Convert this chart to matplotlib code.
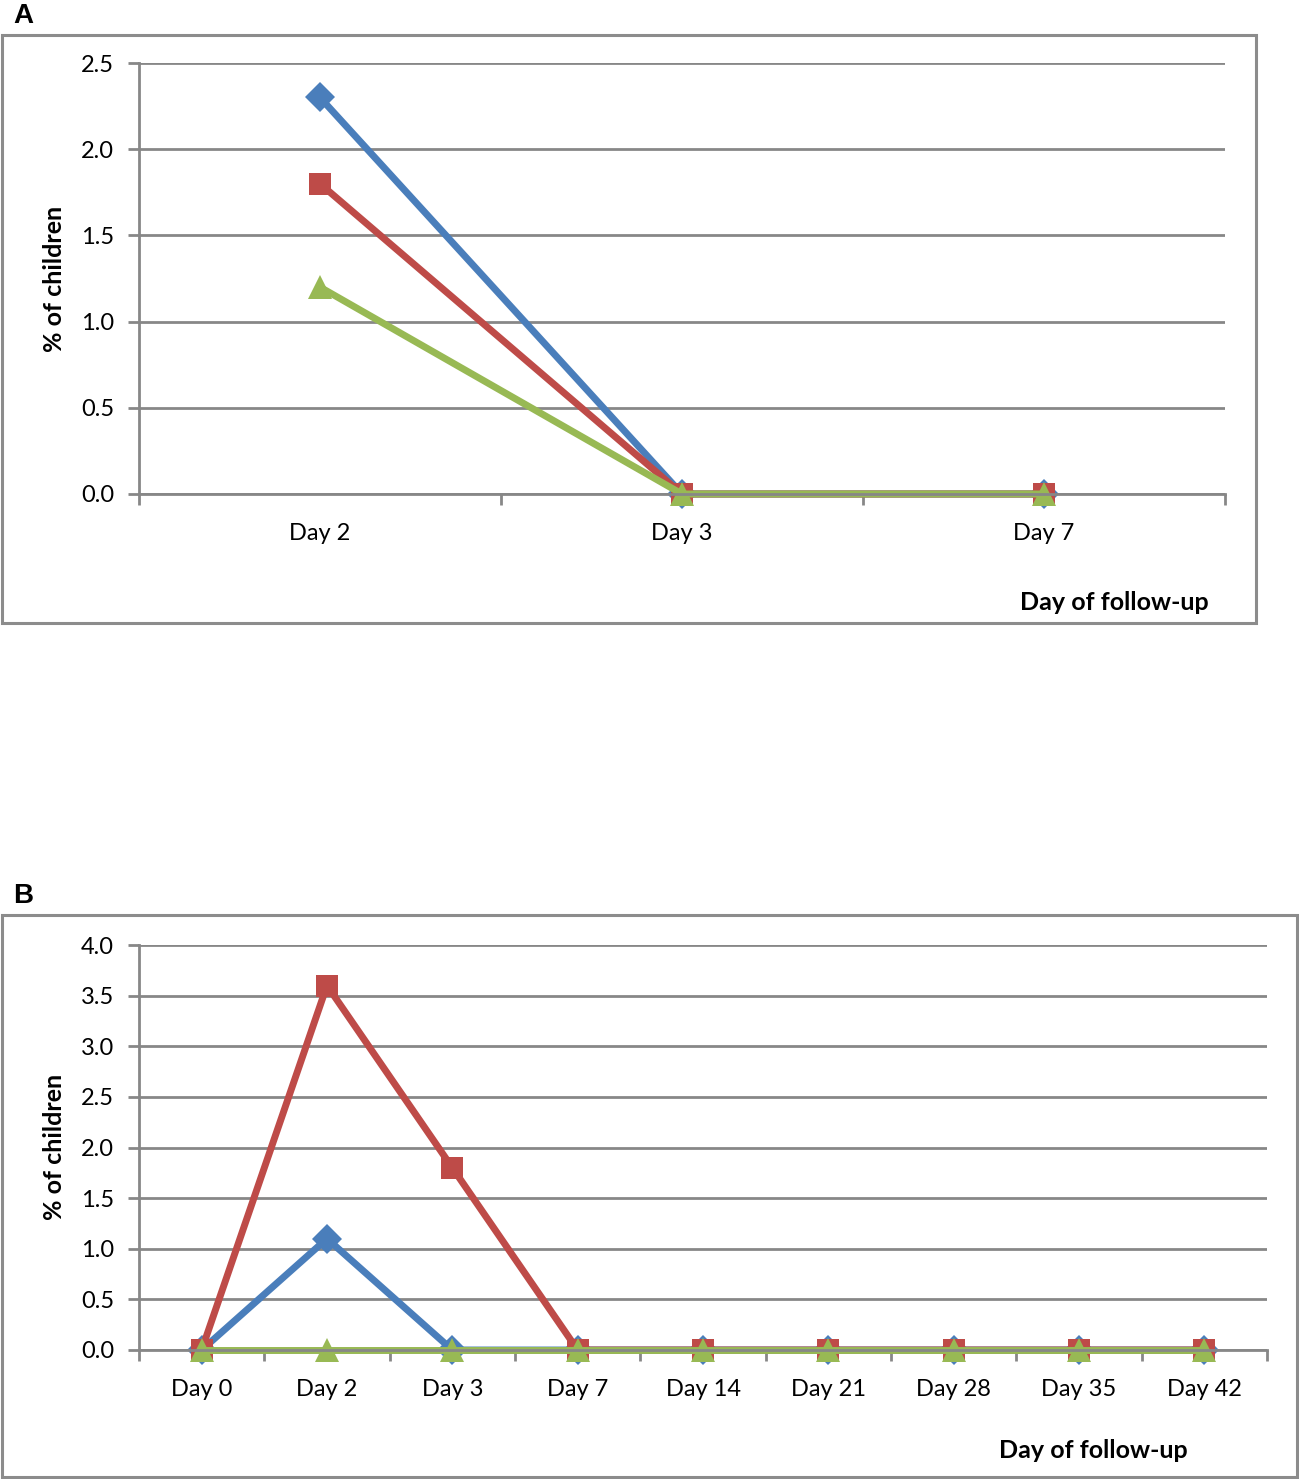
import matplotlib.pyplot as plt
from matplotlib.patches import Rectangle

# data
days_a = ["Day 2", "Day 3", "Day 7"]
blue_a = [2.3, 0.0, 0.0]
red_a = [1.8, 0.0, 0.0]
green_a = [1.2, 0.0, 0.0]

days_b = ["Day 0", "Day 2", "Day 3", "Day 7", "Day 14", "Day 21", "Day 28", "Day 35", "Day 42"]
blue_b = [0.0, 1.1, 0.0, 0.0, 0.0, 0.0, 0.0, 0.0, 0.0]
red_b = [0.0, 3.6, 1.8, 0.0, 0.0, 0.0, 0.0, 0.0, 0.0]
green_b = [0.0, 0.0, 0.0, 0.0, 0.0, 0.0, 0.0, 0.0, 0.0]

yticks_a = [0.0, 0.5, 1.0, 1.5, 2.0, 2.5]
yticks_b = [0.0, 0.5, 1.0, 1.5, 2.0, 2.5, 3.0, 3.5, 4.0]

W, H = 1299, 1479
BLUE, RED, GREEN = "#4A7EBB", "#BE4B48", "#98B954"
GRAY = "#878787"
FONT = "Lato"

fig = plt.figure(figsize=(W / 100, H / 100), dpi=100)


def px_rect(x0, y0, x1, y1):
    # pixel box (top-left origin) -> figure fraction
    return [x0 / W, 1 - y1 / H, (x1 - x0) / W, (y1 - y0) / H]


def frame(x0, y0, x1, y1):
    fig.patches.append(Rectangle((x0 / W, 1 - y1 / H), (x1 - x0) / W, (y1 - y0) / H,
                                 transform=fig.transFigure, fill=False,
                                 edgecolor="#8c8c8c", linewidth=2.2))


def panel(box, cats, series, yticks, letter, letter_xy, ylab_xy, xlab_xy):
    ax = fig.add_axes(px_rect(*box))
    n = len(cats)
    x = list(range(n))
    ax.set_xlim(-0.5, n - 0.5)
    ax.set_ylim(yticks[0], yticks[-1])
    for vals, col, mk, ms in series:
        ax.plot(x, vals, color=col, linewidth=5, marker=mk, markersize=ms,
                markeredgewidth=0, clip_on=False, solid_capstyle="butt")
    ax.set_yticks(yticks)
    ax.set_yticklabels([f"{v:.1f}" for v in yticks], fontsize=17, family=FONT)
    ax.set_xticks(x)
    ax.set_xticklabels(cats, fontsize=17, family=FONT)
    ax.set_xticks([i - 0.5 for i in range(n + 1)], minor=True)
    ax.tick_params(axis="x", which="major", length=0, pad=21)
    ax.tick_params(axis="x", which="minor", length=8, width=2, color=GRAY, direction="out")
    ax.tick_params(axis="y", length=8, width=2, color=GRAY, pad=10)
    ax.yaxis.grid(True, color=GRAY, linewidth=2)
    ax.set_axisbelow(True)
    for s in ["top", "right"]:
        ax.spines[s].set_visible(False)
    for s in ["left", "bottom"]:
        ax.spines[s].set_color(GRAY)
        ax.spines[s].set_linewidth(2)
    fig.text(letter_xy[0] / W, 1 - letter_xy[1] / H, letter, fontsize=20,
             fontweight="bold", family="Liberation Sans", ha="left", va="center")
    fig.text(ylab_xy[0] / W, 1 - ylab_xy[1] / H, "% of children", fontsize=18,
             fontweight="bold", family=FONT, rotation=90, ha="center", va="center")
    fig.text(xlab_xy[0] / W, 1 - xlab_xy[1] / H, "Day of follow-up", fontsize=18,
             fontweight="bold", family=FONT, ha="center", va="center")
    return ax


frame(2, 35, 1256, 623)
panel((139, 63, 1225, 494), days_a,
      [(blue_a, BLUE, "D", 15), (red_a, RED, "s", 16), (green_a, GREEN, "^", 17)],
      yticks_a, "A", (13, 16), (55, 279), (1114, 602))

frame(2, 915, 1297, 1477)
panel((139, 945, 1267, 1350), days_b,
      [(blue_b, BLUE, "D", 15), (red_b, RED, "s", 16), (green_b, GREEN, "^", 17)],
      yticks_b, "B", (13, 896), (55, 1147), (1093, 1451))

fig.savefig("out.png", dpi=100)
